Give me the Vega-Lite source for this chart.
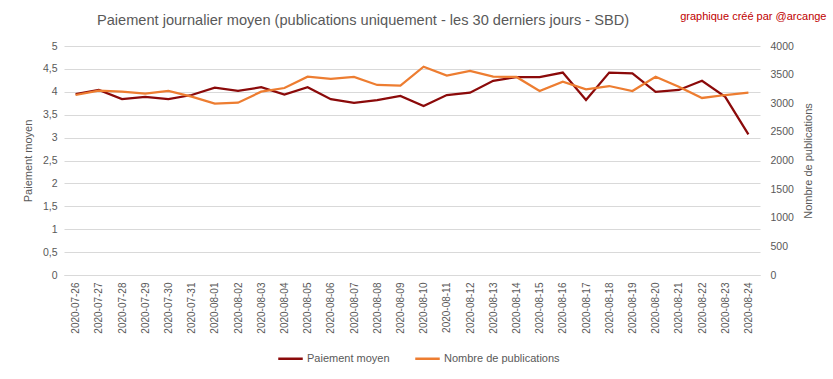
{
  "$schema": "https://vega.github.io/schema/vega-lite/v6.json",
  "width": 696,
  "height": 229,
  "autosize": {"type": "none"},
  "padding": {"left": 64, "top": 46, "right": 73, "bottom": 104},
  "background": "white",
  "title": {
    "text": "Paiement journalier moyen (publications uniquement - les 30 derniers jours - SBD)",
    "anchor": "middle",
    "frame": "group",
    "dx": -49,
    "dy": 18,
    "offset": 0,
    "font": "Liberation Sans",
    "fontSize": 14.6,
    "fontWeight": "normal",
    "color": "#595959"
  },
  "config": {
    "view": {"stroke": null},
    "font": "Liberation Sans",
    "axis": {
      "labelColor": "#595959",
      "titleColor": "#595959",
      "labelFont": "Liberation Sans",
      "titleFont": "Liberation Sans",
      "labelFontSize": 10.5,
      "titleFontSize": 11,
      "titleFontWeight": "normal",
      "ticks": false,
      "gridColor": "#d9d9d9",
      "gridWidth": 1
    }
  },
  "data": {
    "values": [
      {"date": "2020-07-26", "paiement": 3.95, "publications": 3144},
      {"date": "2020-07-27", "paiement": 4.04, "publications": 3220},
      {"date": "2020-07-28", "paiement": 3.84, "publications": 3202},
      {"date": "2020-07-29", "paiement": 3.89, "publications": 3167},
      {"date": "2020-07-30", "paiement": 3.84, "publications": 3214},
      {"date": "2020-07-31", "paiement": 3.93, "publications": 3115},
      {"date": "2020-08-01", "paiement": 4.09, "publications": 2993},
      {"date": "2020-08-02", "paiement": 4.02, "publications": 3010},
      {"date": "2020-08-03", "paiement": 4.10, "publications": 3202},
      {"date": "2020-08-04", "paiement": 3.94, "publications": 3266},
      {"date": "2020-08-05", "paiement": 4.10, "publications": 3464},
      {"date": "2020-08-06", "paiement": 3.84, "publications": 3424},
      {"date": "2020-08-07", "paiement": 3.76, "publications": 3459},
      {"date": "2020-08-08", "paiement": 3.82, "publications": 3319},
      {"date": "2020-08-09", "paiement": 3.91, "publications": 3307},
      {"date": "2020-08-10", "paiement": 3.69, "publications": 3639},
      {"date": "2020-08-11", "paiement": 3.93, "publications": 3482},
      {"date": "2020-08-12", "paiement": 3.98, "publications": 3563},
      {"date": "2020-08-13", "paiement": 4.24, "publications": 3464},
      {"date": "2020-08-14", "paiement": 4.32, "publications": 3459},
      {"date": "2020-08-15", "paiement": 4.32, "publications": 3214},
      {"date": "2020-08-16", "paiement": 4.42, "publications": 3377},
      {"date": "2020-08-17", "paiement": 3.82, "publications": 3243},
      {"date": "2020-08-18", "paiement": 4.42, "publications": 3301},
      {"date": "2020-08-19", "paiement": 4.40, "publications": 3214},
      {"date": "2020-08-20", "paiement": 4.00, "publications": 3464},
      {"date": "2020-08-21", "paiement": 4.04, "publications": 3290},
      {"date": "2020-08-22", "paiement": 4.24, "publications": 3092},
      {"date": "2020-08-23", "paiement": 3.89, "publications": 3144},
      {"date": "2020-08-24", "paiement": 3.07, "publications": 3185}
    ]
  },
  "encoding": {
    "x": {
      "field": "date",
      "type": "ordinal",
      "scale": {"type": "point", "padding": 0.5}
    }
  },
  "layer": [
    {
      "mark": {"type": "line", "strokeWidth": 2.25},
      "encoding": {
        "x": {
          "field": "date",
          "type": "ordinal",
          "axis": {
            "title": null,
            "labelAngle": -90,
            "labelFontSize": 10,
            "labelPadding": 7,
            "grid": false,
            "domain": true,
            "domainColor": "#d9d9d9"
          }
        },
        "y": {
          "field": "paiement",
          "type": "quantitative",
          "scale": {"domain": [0, 5], "nice": false},
          "axis": {
            "title": "Paiement moyen",
            "values": [0, 0.5, 1, 1.5, 2, 2.5, 3, 3.5, 4, 4.5, 5],
            "labelExpr": "replace(format(datum.value, '.1~f'), '.', ',')",
            "domain": false,
            "grid": true,
            "labelPadding": 7,
            "titlePadding": 9
          }
        },
        "color": {
          "datum": "Paiement moyen",
          "scale": {
            "domain": ["Paiement moyen", "Nombre de publications"],
            "range": ["#8B0A0A", "#ED7D31"]
          },
          "legend": {
            "title": null,
            "orient": "none",
            "direction": "horizontal",
            "legendX": 213,
            "legendY": 299,
            "symbolType": "stroke",
            "symbolSize": 600,
            "symbolStrokeWidth": 2.5,
            "labelFont": "Liberation Sans",
            "labelFontSize": 11,
            "labelColor": "#595959",
            "labelOffset": 3,
            "columnPadding": 20
          }
        }
      }
    },
    {
      "mark": {"type": "line", "strokeWidth": 2.25},
      "encoding": {
        "x": {
          "field": "date",
          "type": "ordinal",
          "axis": {
            "orient": "top",
            "labels": false,
            "domain": false,
            "grid": false,
            "title": "graphique créé par @arcange",
            "titleColor": "#C00000",
            "titleFontSize": 11,
            "titleAnchor": "end",
            "titleAlign": "right",
            "titleX": 762,
            "titleY": -25
          }
        },
        "y": {
          "field": "publications",
          "type": "quantitative",
          "scale": {"domain": [0, 4000], "nice": false},
          "axis": {
            "orient": "right",
            "title": "Nombre de publications",
            "titleAngle": 270,
            "values": [0, 500, 1000, 1500, 2000, 2500, 3000, 3500, 4000],
            "format": "d",
            "domain": false,
            "grid": false,
            "labelPadding": 10,
            "titlePadding": 20
          }
        },
        "color": {"datum": "Nombre de publications"}
      }
    }
  ],
  "resolve": {"scale": {"y": "independent"}, "axis": {"x": "independent"}}
}
